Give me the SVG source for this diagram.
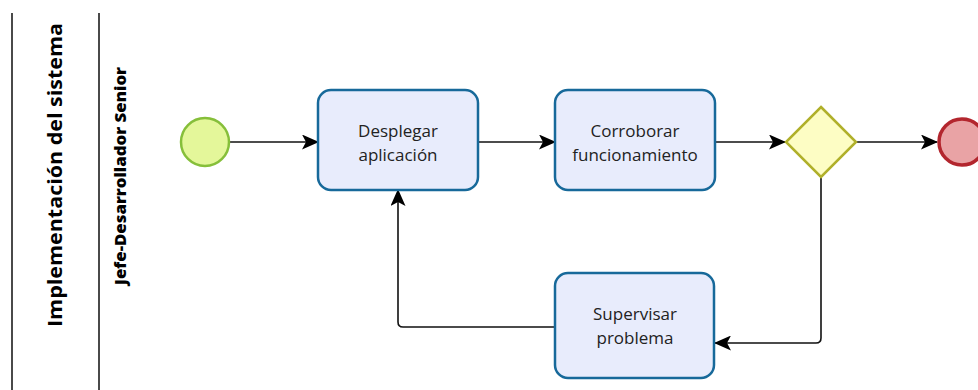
<svg xmlns="http://www.w3.org/2000/svg" width="978" height="390" viewBox="0 0 978 390">
  <style>
    .pool-line { stroke: #4a4a4a; stroke-width: 2; fill: none; }
    .pool-title { font-family: "Open Sans", "Noto Sans", sans-serif; font-weight: 700; font-size: 20px; fill: #000; }
    .lane-title { font-family: "Open Sans", "Noto Sans", sans-serif; font-weight: 800; font-size: 15px; fill: #000; }
    .task rect { fill: #e8ecfc; stroke: #17699a; stroke-width: 2.5; }
    .task text { font-family: "Open Sans", "Noto Sans", sans-serif; font-size: 17px; fill: #222; text-anchor: middle; }
    .flow { stroke: #111; stroke-width: 1.6; fill: none; marker-end: url(#arrow); }
  </style>
  <defs>
    <marker id="arrow" viewBox="0 0 17 15" refX="16" refY="7.5" markerWidth="17" markerHeight="15" markerUnits="userSpaceOnUse" orient="auto">
      <path d="M0,0 L17,7.5 L0,15 L4,7.5 Z" fill="#000"/>
    </marker>
  </defs>

  <rect width="978" height="390" fill="#fff"/>

  <!-- pool and lane -->
  <g id="pool">
    <line class="pool-line" x1="12" y1="13" x2="12" y2="390"/>
    <line class="pool-line" x1="99" y1="13" x2="99" y2="390"/>
    <text class="pool-title" transform="translate(62,175) rotate(-90)" text-anchor="middle" textLength="304" lengthAdjust="spacingAndGlyphs">Implementación del sistema</text>
  </g>
  <g id="lane">
    <text class="lane-title" transform="translate(126,176) rotate(-90)" text-anchor="middle" textLength="218" lengthAdjust="spacingAndGlyphs">Jefe-Desarrollador Senior</text>
  </g>

  <!-- connectors -->
  <g id="connectors">
    <path class="flow" d="M230,142 H318"/>
    <path class="flow" d="M478,142 H555"/>
    <path class="flow" d="M715,142 H785"/>
    <path class="flow" d="M857,142 H937"/>
    <path class="flow" d="M821,178 V338 Q821,343 816,343 H715"/>
    <path class="flow" d="M555,327 H403 Q398,327 398,322 V190"/>
  </g>

  <!-- start event -->
  <g id="start">
    <circle cx="205" cy="142" r="24" fill="#e4f79a" stroke="#86bf3a" stroke-width="2.5"/>
  </g>

  <!-- tasks -->
  <g id="desplegar" class="task">
    <rect x="318" y="90" width="160" height="100" rx="13"/>
    <text x="398" y="137">Desplegar</text>
    <text x="398" y="161">aplicación</text>
  </g>
  <g id="corroborar" class="task">
    <rect x="555" y="90" width="160" height="100" rx="13"/>
    <text x="635" y="137">Corroborar</text>
    <text x="635" y="161">funcionamiento</text>
  </g>
  <g id="supervisar" class="task">
    <rect x="555" y="273" width="159" height="105" rx="13"/>
    <text x="635" y="320">Supervisar</text>
    <text x="635" y="344">problema</text>
  </g>

  <!-- exclusive gateway -->
  <g id="gateway">
    <polygon points="821,107 856,142 821,177 786,142" fill="#fdfdc4" stroke="#b0b02a" stroke-width="2.5"/>
  </g>

  <!-- end event -->
  <g id="end">
    <circle cx="962" cy="142" r="23" fill="#e9a3a5" stroke="#b3262e" stroke-width="3.5"/>
  </g>
</svg>
